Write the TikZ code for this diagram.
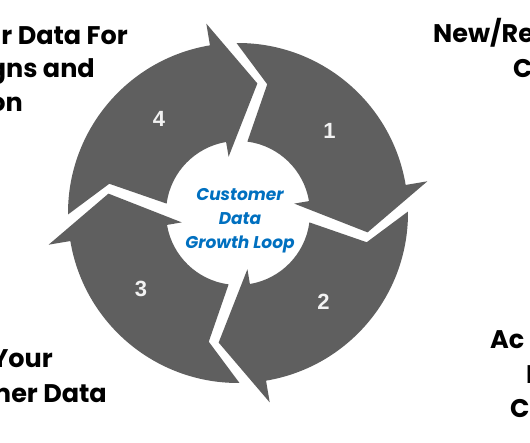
\documentclass[tikz,border=0pt]{standalone}
\usepackage{fontspec}
\setmainfont{Poppins}
\newfontfamily\numfont{Liberation Sans}
\usepackage{tikz}
\definecolor{ringgrey}{HTML}{5F5F5F}
\definecolor{loopblue}{HTML}{0070C0}
\definecolor{numwhite}{HTML}{F2F2F2}
\tikzset{
  seg/.style={fill=ringgrey, draw=none},
  num/.style={font=\numfont\bfseries\fontsize{22}{22}\selectfont, text=numwhite,
              inner sep=0pt},
  side/.style={font=\bfseries\fontsize{25.5}{25.5}\selectfont, inner sep=0pt},
  hub/.style={font=\bfseries\itshape\fontsize{17}{24}\selectfont, text=loopblue,
              align=center, inner sep=0pt},
}

\begin{document}
\begin{tikzpicture}[x=1pt, y=1pt]
\useasboundingbox (0,0) rectangle (530,442);
\fill[white] (0,0) rectangle (530,442);

% ---------------- the four ring arrows ----------------------------------
\begin{scope}[shift={(238,229)}]
  \foreach \g/\n/\la in {-8.5/1/42, -98.5/2/-46, 171.5/3/218, 81.5/4/130}{
    \fill[seg] (\g+99:170) arc[start angle=\g+99, end angle=\g+18, radius=170]
      -- (\g+18:192) -- (\g:131) -- (\g+18:57) -- (\g+18:72)
      arc[start angle=\g+18, end angle=\g+91, radius=72]
      -- (\g+85.7:132) -- cycle;
    \node[num] (n\n) at (\la:123) {\n};
  }
  \node[hub] (hub) at (2,-8) {Customer\\Data\\Growth Loop};
\end{scope}

% ---------------- the cropped stage texts --------------------------------
\node[side, anchor=base east] (tl1) at (128,397) {r Data For};
\node[side, anchor=base east] (tl2) at (95,364) {gns and};
\node[side, anchor=base east] (tl3) at (23,330) {on};

\node[side, anchor=base west] (tr1) at (433,399) {New/Re};
\node[side, anchor=base west] (tr2) at (513,364) {C};

\node[side, anchor=base east] (bl1) at (53,75) {Your};
\node[side, anchor=base east] (bl2) at (107,40) {mer Data};

\node[side, anchor=base west] (br1) at (490,94) {Ac};
\node[side, anchor=base west] (br2) at (526,59) {I};
\node[side, anchor=base west] (br3) at (510,25) {C};
\end{tikzpicture}
\end{document}
